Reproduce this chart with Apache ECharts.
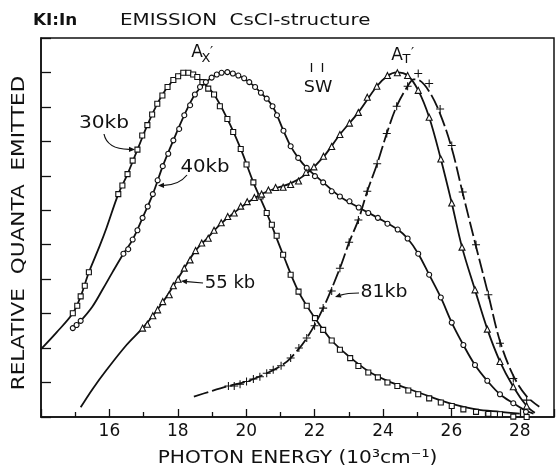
<!DOCTYPE html>
<html><head><meta charset="utf-8">
<script src="https://cdn.jsdelivr.net/npm/echarts@6/dist/echarts.min.js"></script>
<style>html,body{margin:0;padding:0;background:#fff}#c{width:557px;height:468px}</style>
</head><body><div id="c"></div>
<script>
// ---- data (x in 10^3 cm^-1, y relative quanta, peak = 10) ----
const curveNames = ['30kb', '40kb', '55 kb', '81kb'];

const line30 = [[14.0,1.97],[14.45,2.45],[14.93,3.01],[15.16,3.5],[15.4,4.2],[15.71,4.95],[15.92,5.5],[16.26,6.47],[16.53,7.05],[16.82,7.76],[17.11,8.47],[17.4,9.09],[17.7,9.58],[18.0,9.9],[18.23,10.0],[18.45,9.94],[18.72,9.72],[19.06,9.36],[19.45,8.65],[19.84,7.78],[20.21,6.81],[20.6,5.92],[21.08,4.71],[21.53,3.64],[22.01,2.87],[22.5,2.22],[23.04,1.73],[23.57,1.33],[24.13,1.05],[24.74,0.82],[25.35,0.6],[26.01,0.38],[26.72,0.22],[27.42,0.15],[28.0,0.1]];
const marks30 = [[14.93,3.01],[15.06,3.23],[15.16,3.5],[15.28,3.81],[15.4,4.2],[16.26,6.47],[16.38,6.72],[16.53,7.05],[16.68,7.44],[16.82,7.76],[16.96,8.17],[17.11,8.47],[17.25,8.78],[17.4,9.09],[17.55,9.33],[17.7,9.58],[17.87,9.78],[18.01,9.89],[18.16,9.99],[18.31,9.99],[18.45,9.94],[18.57,9.87],[18.72,9.72],[18.89,9.53],[19.06,9.36],[19.23,9.02],[19.45,8.65],[19.62,8.27],[19.84,7.78],[20.01,7.33],[20.21,6.81],[20.42,6.4],[20.6,5.92],[20.75,5.58],[20.89,5.26],[21.08,4.71],[21.3,4.13],[21.53,3.64],[21.77,3.23],[22.01,2.87],[22.25,2.53],[22.5,2.22],[22.74,1.95],[23.04,1.71],[23.28,1.48],[23.57,1.29],[23.85,1.15],[24.13,1.0],[24.42,0.9],[24.74,0.77],[25.03,0.66],[25.35,0.54],[25.69,0.42],[26.01,0.32],[26.35,0.22],[26.72,0.15],[27.08,0.09],[27.42,0.08],[27.81,0.01],[28.2,0.0]];

const line40 = [[14.93,2.58],[15.16,2.79],[15.5,3.2],[15.8,3.7],[16.1,4.22],[16.41,4.74],[16.68,5.15],[16.97,5.78],[17.27,6.47],[17.56,7.28],[17.87,8.03],[18.19,8.76],[18.5,9.36],[18.82,9.72],[19.14,9.94],[19.45,10.01],[19.77,9.91],[20.09,9.72],[20.43,9.41],[20.77,9.02],[21.09,8.31],[21.3,7.86],[21.52,7.52],[21.77,7.23],[22.25,6.81],[22.74,6.4],[23.29,6.08],[23.85,5.78],[24.43,5.44],[24.72,5.18],[25.03,4.74],[25.35,4.13],[25.69,3.47],[26.01,2.74],[26.35,2.09],[26.69,1.51],[27.05,1.05],[27.42,0.66],[27.81,0.4],[28.18,0.18],[28.4,0.1]];
const marks40 = [[14.93,2.58],[15.04,2.67],[15.16,2.79],[16.41,4.74],[16.55,4.87],[16.68,5.15],[16.82,5.42],[16.97,5.78],[17.12,6.11],[17.27,6.47],[17.41,6.87],[17.56,7.28],[17.72,7.64],[17.87,8.03],[18.04,8.36],[18.19,8.76],[18.36,9.05],[18.5,9.36],[18.65,9.58],[18.82,9.72],[18.99,9.85],[19.14,9.94],[19.28,9.99],[19.45,10.01],[19.61,9.97],[19.77,9.91],[19.94,9.83],[20.09,9.72],[20.26,9.58],[20.43,9.41],[20.6,9.24],[20.77,9.02],[20.9,8.76],[21.09,8.31],[21.3,7.86],[21.52,7.52],[21.77,7.23],[22.01,6.99],[22.25,6.81],[22.5,6.55],[22.74,6.4],[23.02,6.26],[23.29,6.08],[23.57,5.92],[23.85,5.78],[24.13,5.61],[24.43,5.44],[24.72,5.18],[25.03,4.74],[25.35,4.13],[25.69,3.47],[26.01,2.74],[26.35,2.09],[26.69,1.51],[27.05,1.05],[27.42,0.66],[27.81,0.4],[28.18,0.15]];

const line55 = [[15.16,0.28],[15.5,0.8],[15.92,1.37],[16.5,2.09],[16.97,2.58],[17.27,2.94],[17.56,3.33],[17.87,3.8],[18.19,4.32],[18.52,4.83],[18.89,5.22],[19.27,5.62],[19.65,5.93],[20.03,6.22],[20.45,6.47],[20.86,6.64],[21.3,6.78],[21.75,7.05],[22.26,7.55],[22.74,8.2],[23.28,8.84],[23.82,9.6],[24.13,9.9],[24.4,10.0],[24.72,9.91],[25.03,9.48],[25.35,8.7],[25.69,7.49],[26.01,6.21],[26.31,4.93],[26.69,3.69],[27.05,2.55],[27.42,1.61],[27.81,0.88],[28.2,0.32],[28.44,0.12]];
const marks55 = [[16.97,2.58],[17.11,2.69],[17.27,2.94],[17.41,3.11],[17.56,3.35],[17.75,3.55],[17.87,3.81],[18.01,4.0],[18.19,4.32],[18.36,4.56],[18.52,4.83],[18.7,5.05],[18.89,5.19],[19.06,5.42],[19.27,5.64],[19.46,5.82],[19.65,5.92],[19.84,6.12],[20.03,6.25],[20.24,6.37],[20.45,6.47],[20.65,6.59],[20.86,6.66],[21.08,6.67],[21.3,6.75],[21.53,6.85],[21.75,7.1],[21.98,7.26],[22.26,7.57],[22.5,7.85],[22.74,8.2],[23.02,8.53],[23.28,8.84],[23.54,9.28],[23.82,9.6],[24.13,9.91],[24.42,9.99],[24.72,9.91],[25.03,9.48],[25.35,8.7],[25.69,7.49],[26.01,6.21],[26.31,4.93],[26.69,3.69],[27.05,2.55],[27.42,1.61],[27.81,0.88],[28.2,0.32]];

const line81 = [[18.47,0.59],[18.94,0.74],[19.48,0.9],[20.01,1.03],[20.6,1.27],[21.02,1.49],[21.3,1.71],[21.77,2.29],[22.25,3.16],[22.74,4.32],[23.01,5.07],[23.28,5.72],[23.54,6.55],[23.83,7.35],[24.11,8.23],[24.4,9.02],[24.72,9.6],[24.9,9.8],[25.05,9.78],[25.35,9.45],[25.67,8.8],[26.01,7.8],[26.33,6.5],[26.72,4.95],[27.08,3.55],[27.42,2.2],[27.81,1.2],[28.2,0.6],[28.57,0.3]];
const marks81 = [[19.48,0.9],[19.65,0.9],[19.82,0.95],[20.01,1.03],[20.21,1.1],[20.4,1.17],[20.6,1.27],[20.79,1.37],[21.02,1.49],[21.3,1.71],[21.54,2.0],[21.77,2.29],[22.0,2.65],[22.25,3.16],[22.5,3.66],[22.74,4.32],[23.01,5.07],[23.28,5.72],[23.54,6.55],[23.83,7.35],[24.11,8.23],[24.4,9.02],[24.72,9.6],[25.03,9.97],[25.35,9.68],[25.67,8.94],[26.01,7.88],[26.33,6.53],[26.72,5.0],[27.08,3.55],[27.42,2.14],[27.81,1.12],[28.2,0.49]];

const xLabels = [16, 18, 20, 22, 24, 26, 28];

// ---- chart ----
const INK = '#111';
const F = 'DejaVu Sans';
const chart = echarts.init(document.getElementById('c'), null, {renderer: 'canvas'});

function lineSeries(name, data, dashed) {
  return {type: 'line', name: name, data: data, smooth: 0.35, symbol: 'none', silent: true,
    lineStyle: {color: INK, width: 1.8, type: dashed ? [15, 4] : 'solid'}, z: 2};
}
const PLUS = 'path://M4.35,0H5.65V4.35H10V5.65H5.65V10H4.35V5.65H0V4.35H4.35Z';
function markSeries(name, data, symbol, size) {
  const filled = symbol === PLUS;
  return {type: 'scatter', name: name, data: data, symbol: symbol, symbolSize: size, silent: true,
    itemStyle: {color: filled ? INK : '#fff', borderColor: INK, borderWidth: filled ? 0 : 1.1, opacity: 1}, z: 3};
}
function arrow(x1, y1, cx, cy, x2, y2) {
  const ang = Math.atan2(y2 - cy, x2 - cx), L = 6, W = 2.6;
  const bx = x2 - L * Math.cos(ang), by = y2 - L * Math.sin(ang);
  const px = -Math.sin(ang), py = Math.cos(ang);
  return [
    {type: 'bezierCurve', shape: {x1: x1, y1: y1, x2: bx, y2: by, cpx1: cx, cpy1: cy}, style: {stroke: INK, lineWidth: 1.2, fill: null}},
    {type: 'polygon', shape: {points: [[x2, y2], [bx + px * W, by + py * W], [bx - px * W, by - py * W]]}, style: {fill: INK}}
  ];
}
function txt(x, y, text, size, extra, align, weight) {
  return Object.assign({type: 'text', x: x, y: y, style: {text: text, fill: INK,
    font: (weight ? weight + ' ' : '') + size + 'px "' + F + '"', align: align || 'center', verticalAlign: 'middle'}}, extra || {});
}

const graphics = [
  txt(55, 21, 'KI:In', 16, {scaleX: 1.05}, 'center', 'bold'),
  txt(120, 21, 'EMISSION  CsCl-structure', 16, {scaleX: 1.24}, 'left'),
  txt(19.5, 233, 'RELATIVE  QUANTA  EMITTED', 18, {rotation: Math.PI / 2, scaleX: 1.2}),
  txt(297.5, 458, 'PHOTON ENERGY (10³cm⁻¹)', 18, {scaleX: 1.12}),
  txt(318, 87.5, 'SW', 16, {scaleX: 1.1}),
  {type: 'line', shape: {x1: 311.5, y1: 63, x2: 311.5, y2: 72}, style: {stroke: INK, lineWidth: 1.3}},
  {type: 'line', shape: {x1: 322.5, y1: 63, x2: 322.5, y2: 72}, style: {stroke: INK, lineWidth: 1.3}},
  txt(197, 52.5, 'A', 17), txt(206, 58.5, 'X', 13), txt(211.5, 52, '′', 14),
  txt(397, 55.5, 'A', 17), txt(406.5, 60, 'T', 13), txt(412.5, 53, '′', 14),
  txt(104, 123, '30kb', 18, {scaleX: 1.12}), txt(205, 167, '40kb', 18, {scaleX: 1.1}),
  txt(230, 283, '55 kb', 18, {scaleX: 1.0}), txt(384, 292, '81kb', 18, {scaleX: 1.05})
].concat(
  arrow(104, 134, 107, 149, 135, 149.5),
  arrow(187, 175, 179, 185, 158, 185.5),
  arrow(203, 283, 192, 282, 181, 281),
  arrow(359, 293, 347, 293, 335, 297)
);

chart.setOption({
  animation: false,
  backgroundColor: '#fff',
  grid: {left: 41, top: 38, width: 515, height: 379, show: true, borderColor: INK, borderWidth: 1.5, backgroundColor: 'transparent'},
  xAxis: {
    type: 'value', min: 14, max: 29, interval: 2,
    axisLine: {onZero: false, lineStyle: {color: INK, width: 1.5}},
    axisTick: {inside: true, length: 8, lineStyle: {color: INK, width: 1.3}},
    minorTick: {show: true, splitNumber: 2, length: 5, lineStyle: {color: INK, width: 1.3}},
    splitLine: {show: false}, minorSplitLine: {show: false},
    axisLabel: {margin: 6, color: INK, fontSize: 17, fontFamily: F,
      formatter: function (v) { return xLabels.indexOf(v) >= 0 ? String(v) : ''; }}
  },
  yAxis: {
    type: 'value', min: 0, max: 11, interval: 1,
    axisLine: {show: true, onZero: false, lineStyle: {color: INK, width: 1.5}},
    axisTick: {show: true, inside: true, length: 10, lineStyle: {color: INK, width: 1.3}},
    axisLabel: {show: false}, splitLine: {show: false}
  },
  series: [
    lineSeries(curveNames[0], line30, false), markSeries(curveNames[0], marks30, 'rect', 5),
    lineSeries(curveNames[1], line40, false), markSeries(curveNames[1], marks40, 'circle', 5),
    lineSeries(curveNames[2], line55, false), markSeries(curveNames[2], marks55, 'triangle', 6),
    lineSeries(curveNames[3], line81, true), markSeries(curveNames[3], marks81, PLUS, 8)
  ],
  graphic: graphics
});
</script>
</body></html>
